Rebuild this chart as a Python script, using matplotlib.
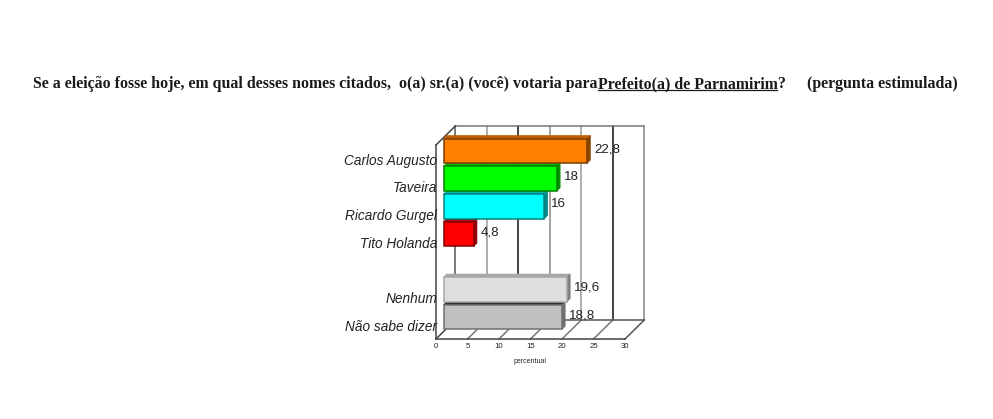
import matplotlib
matplotlib.use("Agg")
import matplotlib.pyplot as plt
from matplotlib.patches import Polygon
from matplotlib.lines import Line2D
from matplotlib.transforms import ScaledTranslation

categories = ["Carlos Augusto", "Taveira", "Ricardo Gurgel", "Tito Holanda", "Nenhum", "Não sabe dizer"]
values = [22.8, 18, 16, 4.8, 19.6, 18.8]
positions = [0, 1, 2, 3, 5, 6]
face_colors = ["#FF8000", "#00FF00", "#00FFFF", "#FF0000", "#DEDEDE", "#C0C0C0"]
edge_colors = ["#7A3D00", "#008000", "#008080", "#800000", "#A8A8A8", "#707070"]
side_colors = ["#8A4500", "#009000", "#008888", "#900000", "#808080", "#707070"]
top_colors = ["#C06000", "#00B000", "#00B0B0", "#B00000", "#A8A8A8", "#303030"]
x_ticks = [0, 5, 10, 15, 20, 25, 30]
wall_colors = ["#555555", "#999999", "#111111", "#888888", "#999999", "#111111", "#888888"]

W, H = 993, 419
fig = plt.figure(figsize=(W / 100, H / 100), dpi=100, facecolor="white")
# front plane of the 3D box, in pixels
L, R, T, B = 436, 625, 145, 339
ax = fig.add_axes([L / W, 1 - B / H, (R - L) / W, (B - T) / H])
ax.set_xlim(0, 30)
PXX = (R - L) / 30
PXY = 27.7
y_top = (T - 151) / PXY
y_bot = (B - 151) / PXY
ax.set_ylim(y_bot, y_top)
ax.patch.set_alpha(0)
for s in ax.spines.values():
    s.set_visible(False)

DX = 19.3 / PXX
DY = 19 / PXY
box = "#555555"


def seg(xs, ys, c=box, lw=1.1, z=1):
    ax.add_line(Line2D(xs, ys, color=c, lw=lw, clip_on=False, zorder=z))


# back wall verticals
for t, c in zip(x_ticks, wall_colors):
    seg([t + DX, t + DX], [y_top - DY, y_bot - DY], c=c)
    if t > 0 and t < 30:
        seg([t, t + DX], [y_bot, y_bot - DY], c="#777777")
seg([DX, 30 + DX], [y_top - DY, y_top - DY], c="#777777")
seg([DX, 30 + DX], [y_bot - DY, y_bot - DY], c="#555555")
seg([0, 0], [y_top, y_bot], c="#444444")
seg([0, DX], [y_top, y_top - DY], c="#444444")
seg([0, DX], [y_bot, y_bot - DY], c="#444444")
seg([30, 30 + DX], [y_bot, y_bot - DY], c="#555555")
seg([0, 30], [y_bot, y_bot], c="#444444")

# bars
left = 7.5 / PXX
bh = 24.5 / PXY
ex = 3.2 / PXX
ey = 3.2 / PXY
bars = ax.barh(positions, values, left=left, height=bh, color=face_colors,
               edgecolor=edge_colors, linewidth=1.1, zorder=3)
for b in bars:
    b.set_clip_on(False)
for p, v, sc, tc in zip(positions, values, side_colors, top_colors):
    x1 = left + v
    yt, yb = p - bh / 2, p + bh / 2
    ax.add_patch(Polygon([(left, yt), (left + ex, yt - ey), (x1 + ex, yt - ey), (x1, yt)],
                         closed=True, fc=tc, ec=tc, lw=0.5, zorder=2.5, clip_on=False))
    ax.add_patch(Polygon([(x1, yt), (x1 + ex, yt - ey), (x1 + ex, yb - ey), (x1, yb)],
                         closed=True, fc=sc, ec=sc, lw=0.5, zorder=2.5, clip_on=False))
    ax.annotate(f"{v:g}".replace(".", ","), (x1, p), xytext=(7 * 0.72, 2 * 0.72),
                textcoords="offset points", ha="left", va="center",
                fontsize=9.6, family="Liberation Sans", color="#222222", zorder=5)

# axes ticks
ax.set_yticks(positions)
ax.set_yticklabels(categories, fontsize=9.8, style="italic", family="Liberation Sans", color="#222222")
ax.tick_params(axis="y", length=0, pad=0)
shift = ScaledTranslation(1 / 100, -8 / 100, fig.dpi_scale_trans)
for lab in ax.get_yticklabels():
    lab.set_transform(lab.get_transform() + shift)
ax.set_xticks(x_ticks)
ax.set_xticklabels([str(t) for t in x_ticks], fontsize=5.6, family="Liberation Sans", color="#222222")
ax.tick_params(axis="x", length=0, pad=3)
ax.set_xlabel("percentual", fontsize=5, family="Liberation Sans", color="#222222", labelpad=5.5)


def ftext(x, y, s, **kw):
    fig.text(x / W, 1 - y / H, s, fontsize=11.45, family="Liberation Serif", weight="bold",
             color="#1a1a1a", va="baseline", ha="left", **kw)


ftext(33, 88, "Se a eleição fosse hoje, em qual desses nomes citados,  o(a) sr.(a) (você) votaria para")
ftext(598, 88, "Prefeito(a) de Parnamirim")
ftext(777, 88, "?")
ftext(807, 88, "(pergunta estimulada)")
fig.add_artist(Line2D([598 / W, 777 / W], [1 - 90.5 / H] * 2, color="#1a1a1a", lw=0.9))

fig.savefig("out.png", dpi=100, facecolor="white")
